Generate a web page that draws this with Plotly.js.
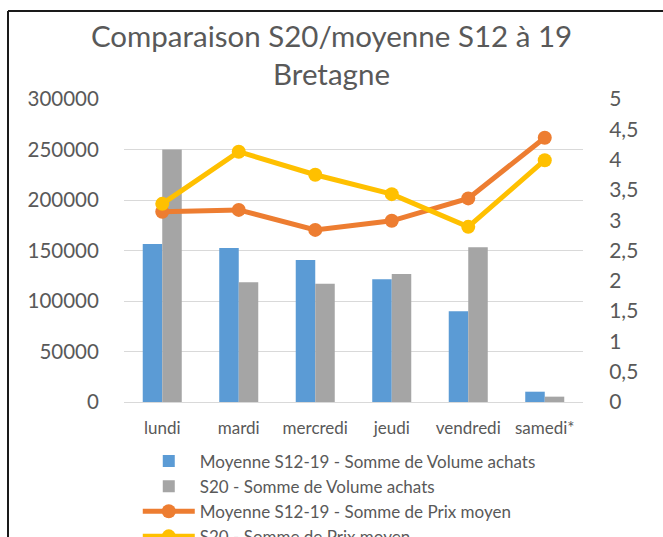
<!DOCTYPE html>
<html>
<head>
<meta charset="utf-8">
<script src="https://cdn.plot.ly/plotly-3.0.1.min.js"></script>
<style>
html,body{margin:0;padding:0;overflow:hidden;background:#fff;}
#chart{width:663px;height:570px;}
</style>
</head>
<body>
<div id="chart"></div>
<script>
const categories = ["lundi", "mardi", "mercredi", "jeudi", "vendredi", "samedi*"];
const volMoyenne = [156500, 152500, 140500, 121500, 89800, 10200];
const volS20 = [250000, 118500, 117200, 126800, 153300, 5300];
const prixMoyenne = [3.14, 3.17, 2.84, 2.99, 3.36, 4.36];
const prixS20 = [3.27, 4.13, 3.75, 3.43, 2.89, 3.99];
const seriesNames = [
  "Moyenne S12-19 - Somme de Volume achats",
  "S20 - Somme de Volume achats",
  "Moyenne S12-19 - Somme de Prix moyen",
  "S20 - Somme de Prix moyen"
];
const titleText = "Comparaison S20/moyenne S12 à 19<br>Bretagne";

const FONT = "Lato, 'Open Sans', sans-serif";
const TXT = "#595959";

const traces = [
  {type: "bar", x: categories, y: volMoyenne, name: seriesNames[0], marker: {color: "#5B9BD5"}, yaxis: "y"},
  {type: "bar", x: categories, y: volS20, name: seriesNames[1], marker: {color: "#A5A5A5"}, yaxis: "y"},
  {type: "scatter", mode: "lines+markers", x: categories, y: prixMoyenne, name: seriesNames[2], yaxis: "y2",
   line: {color: "#ED7D31", width: 5}, marker: {color: "#ED7D31", size: 14}},
  {type: "scatter", mode: "lines+markers", x: categories, y: prixS20, name: seriesNames[3], yaxis: "y2",
   line: {color: "#FFC000", width: 5}, marker: {color: "#FFC000", size: 14}}
];

const H = 570;
const layout = {
  width: 663, height: H,
  margin: {l: 124, r: 80, t: 99, b: H - 402, autoexpand: false},
  paper_bgcolor: "#fff", plot_bgcolor: "#fff",
  font: {family: FONT, color: TXT},
  separators: ", ",
  title: {text: titleText, font: {family: FONT, size: 29.5, color: TXT}, x: 0.5, xref: "container", xanchor: "center",
          y: 1 - 47 / H, yref: "container", yanchor: "top"},
  barmode: "group", bargap: 0.49, bargroupgap: 0,
  showlegend: true,
  legend: {orientation: "v", x: 0.03, xanchor: "left", y: -0.137, yanchor: "top", traceorder: "normal",
           font: {family: FONT, size: 17, color: TXT}, bgcolor: "rgba(0,0,0,0)", itemwidth: 52, tracegroupgap: 0},
  xaxis: {type: "category", showgrid: false, zeroline: false, showline: false, ticks: "outside", ticklen: 11,
          tickcolor: "rgba(0,0,0,0)", tickfont: {family: FONT, size: 17, color: TXT}, fixedrange: true},
  yaxis: {range: [0, 300000], dtick: 50000, tickformat: "d", showgrid: true, gridcolor: "#D9D9D9", gridwidth: 1,
          zeroline: true, zerolinecolor: "#D9D9D9", showline: false, ticks: "outside", ticklen: 20,
          tickcolor: "rgba(0,0,0,0)", tickfont: {family: FONT, size: 20.5, color: TXT}, fixedrange: true},
  yaxis2: {range: [0, 5], dtick: 0.5, overlaying: "y", side: "right", showgrid: false, zeroline: false,
           showline: false, ticks: "outside", ticklen: 21, tickcolor: "rgba(0,0,0,0)",
           tickfont: {family: FONT, size: 21, color: TXT}, fixedrange: true},
  shapes: [
    {type: "line", xref: "paper", yref: "paper", x0: (8 - 124) / 459, x1: 1.4, y0: (402 - 11) / 303, y1: (402 - 11) / 303,
     line: {color: "#1a1a1a", width: 2}},
    {type: "line", xref: "paper", yref: "paper", x0: (8 - 124) / 459, x1: (8 - 124) / 459, y0: (402 - 11) / 303, y1: -0.7,
     line: {color: "#1a1a1a", width: 2}}
  ]
};

Plotly.newPlot("chart", traces, layout, {displayModeBar: false, staticPlot: true});
</script>
</body>
</html>
